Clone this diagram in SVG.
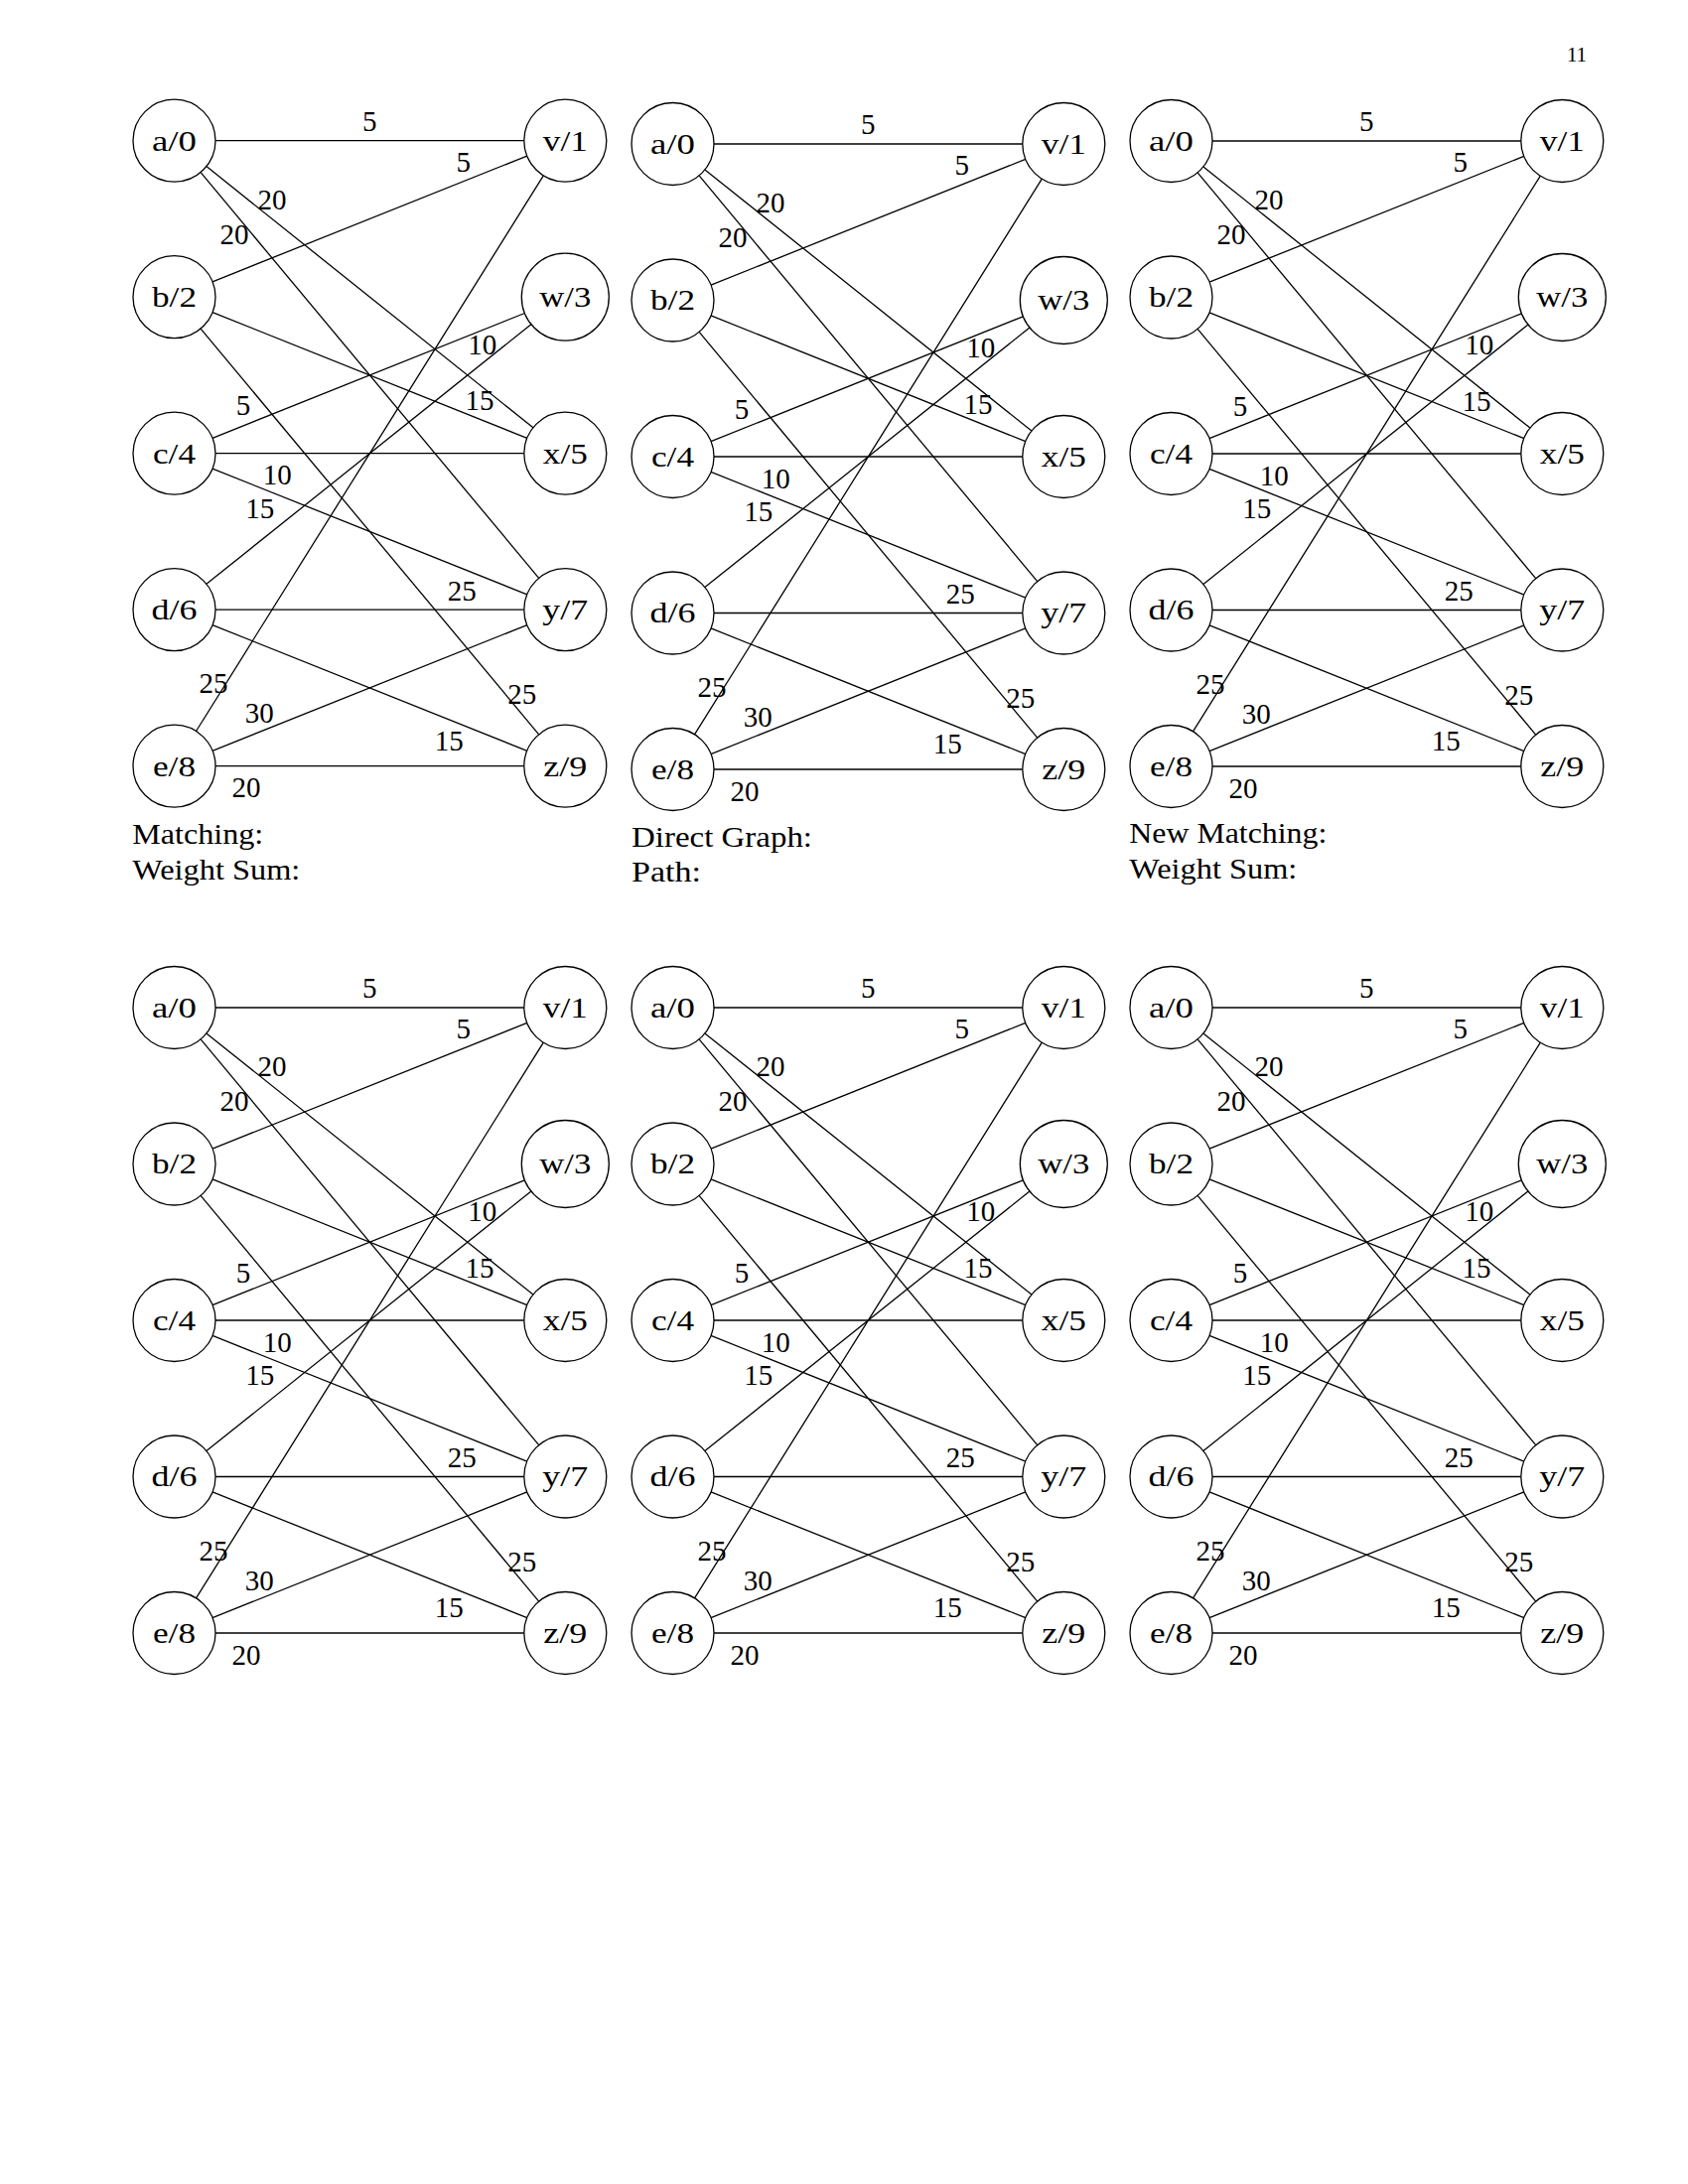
<svg xmlns="http://www.w3.org/2000/svg" xmlns:xlink="http://www.w3.org/1999/xlink" width="1700" height="2200" viewBox="0 0 1700 2200">
<style>
text{font-family:"Liberation Serif","Times New Roman",serif;font-size:29px;fill:#000}
.nl{text-anchor:middle;font-size:30px}
.el{text-anchor:middle}
.cap{text-anchor:start;font-size:30px}
.pg{font-size:21px;text-anchor:middle}
circle{fill:#fff;stroke:#000;stroke-width:1.3}
line{stroke:#000;stroke-width:1.3}
</style>
<rect width="1700" height="2200" fill="#fff"/>
<text class="pg" x="1588" y="62">11</text>
<defs>
<g id="edges">
<line x1="217" y1="141.7" x2="527.8" y2="141.7"/>
<line x1="207.9" y1="167.6" x2="536.9" y2="430.8"/>
<line x1="202.1" y1="173.6" x2="542.7" y2="582.3"/>
<line x1="214" y1="283.8" x2="530.8" y2="157.1"/>
<line x1="214" y1="314.6" x2="530.8" y2="441.3"/>
<line x1="202.1" y1="331.1" x2="542.7" y2="739.8"/>
<line x1="214" y1="441.3" x2="528.4" y2="315.5"/>
<line x1="217" y1="456.7" x2="527.8" y2="456.7"/>
<line x1="214" y1="472.1" x2="530.8" y2="598.8"/>
<line x1="207.9" y1="588.3" x2="534.9" y2="326.7"/>
<line x1="217" y1="614.2" x2="527.8" y2="614.2"/>
<line x1="214" y1="629.6" x2="530.8" y2="756.3"/>
<line x1="197.5" y1="736.5" x2="547.3" y2="176.9"/>
<line x1="214" y1="756.3" x2="530.8" y2="629.6"/>
<line x1="217" y1="771.7" x2="527.8" y2="771.7"/>
<text class="el" x="372.3" y="131.7">5</text>
<text class="el" x="466.7" y="172.7">5</text>
<text class="el" x="274" y="210.7">20</text>
<text class="el" x="236" y="246">20</text>
<text class="el" x="485.7" y="356.7">10</text>
<text class="el" x="483" y="413.3">15</text>
<text class="el" x="245" y="418.3">5</text>
<text class="el" x="279.3" y="488.3">10</text>
<text class="el" x="261.7" y="521.7">15</text>
<text class="el" x="465.3" y="605">25</text>
<text class="el" x="215" y="698.3">25</text>
<text class="el" x="261.3" y="728.3">30</text>
<text class="el" x="525.7" y="709.3">25</text>
<text class="el" x="452.3" y="756">15</text>
<text class="el" x="248" y="803.3">20</text>
</g>
</defs>

<g id="connectors">
<use xlink:href="#edges" href="#edges"/>
<use xlink:href="#edges" href="#edges" transform="translate(502,3.3)"/>
<use xlink:href="#edges" href="#edges" transform="translate(1004,0.3)"/>
<use xlink:href="#edges" href="#edges" transform="translate(0,873.3)"/>
<use xlink:href="#edges" href="#edges" transform="translate(502,873.3)"/>
<use xlink:href="#edges" href="#edges" transform="translate(1004,873.3)"/>
</g>

<g id="graph1">
<g id="g1-a"><circle cx="175.5" cy="141.7" r="41.5"/><text class="nl" x="175.5" y="151.7" textLength="45" lengthAdjust="spacingAndGlyphs">a/0</text></g>
<g id="g1-b"><circle cx="175.5" cy="299.2" r="41.5"/><text class="nl" x="175.5" y="309.2" textLength="45" lengthAdjust="spacingAndGlyphs">b/2</text></g>
<g id="g1-c"><circle cx="175.5" cy="456.7" r="41.5"/><text class="nl" x="175.5" y="466.7" textLength="43" lengthAdjust="spacingAndGlyphs">c/4</text></g>
<g id="g1-d"><circle cx="175.5" cy="614.2" r="41.5"/><text class="nl" x="175.5" y="624.2" textLength="46" lengthAdjust="spacingAndGlyphs">d/6</text></g>
<g id="g1-e"><circle cx="175.5" cy="771.7" r="41.5"/><text class="nl" x="175.5" y="781.7" textLength="43" lengthAdjust="spacingAndGlyphs">e/8</text></g>
<g id="g1-v"><circle cx="569.3" cy="141.7" r="41.5"/><text class="nl" x="569.3" y="151.7" textLength="45" lengthAdjust="spacingAndGlyphs">v/1</text></g>
<g id="g1-w"><circle cx="569.3" cy="299.2" r="44"/><text class="nl" x="569.3" y="309.2" textLength="52" lengthAdjust="spacingAndGlyphs">w/3</text></g>
<g id="g1-x"><circle cx="569.3" cy="456.7" r="41.5"/><text class="nl" x="569.3" y="466.7" textLength="45" lengthAdjust="spacingAndGlyphs">x/5</text></g>
<g id="g1-y"><circle cx="569.3" cy="614.2" r="41.5"/><text class="nl" x="569.3" y="624.2" textLength="46" lengthAdjust="spacingAndGlyphs">y/7</text></g>
<g id="g1-z"><circle cx="569.3" cy="771.7" r="41.5"/><text class="nl" x="569.3" y="781.7" textLength="44" lengthAdjust="spacingAndGlyphs">z/9</text></g>
<text class="cap" x="133.3" y="850" textLength="132" lengthAdjust="spacingAndGlyphs">Matching:</text>
<text class="cap" x="133.3" y="885.5" textLength="169" lengthAdjust="spacingAndGlyphs">Weight Sum:</text>
</g>

<g id="graph2" transform="translate(502,3.3)">
<g id="g2-a"><circle cx="175.5" cy="141.7" r="41.5"/><text class="nl" x="175.5" y="151.7" textLength="45" lengthAdjust="spacingAndGlyphs">a/0</text></g>
<g id="g2-b"><circle cx="175.5" cy="299.2" r="41.5"/><text class="nl" x="175.5" y="309.2" textLength="45" lengthAdjust="spacingAndGlyphs">b/2</text></g>
<g id="g2-c"><circle cx="175.5" cy="456.7" r="41.5"/><text class="nl" x="175.5" y="466.7" textLength="43" lengthAdjust="spacingAndGlyphs">c/4</text></g>
<g id="g2-d"><circle cx="175.5" cy="614.2" r="41.5"/><text class="nl" x="175.5" y="624.2" textLength="46" lengthAdjust="spacingAndGlyphs">d/6</text></g>
<g id="g2-e"><circle cx="175.5" cy="771.7" r="41.5"/><text class="nl" x="175.5" y="781.7" textLength="43" lengthAdjust="spacingAndGlyphs">e/8</text></g>
<g id="g2-v"><circle cx="569.3" cy="141.7" r="41.5"/><text class="nl" x="569.3" y="151.7" textLength="45" lengthAdjust="spacingAndGlyphs">v/1</text></g>
<g id="g2-w"><circle cx="569.3" cy="299.2" r="44"/><text class="nl" x="569.3" y="309.2" textLength="52" lengthAdjust="spacingAndGlyphs">w/3</text></g>
<g id="g2-x"><circle cx="569.3" cy="456.7" r="41.5"/><text class="nl" x="569.3" y="466.7" textLength="45" lengthAdjust="spacingAndGlyphs">x/5</text></g>
<g id="g2-y"><circle cx="569.3" cy="614.2" r="41.5"/><text class="nl" x="569.3" y="624.2" textLength="46" lengthAdjust="spacingAndGlyphs">y/7</text></g>
<g id="g2-z"><circle cx="569.3" cy="771.7" r="41.5"/><text class="nl" x="569.3" y="781.7" textLength="44" lengthAdjust="spacingAndGlyphs">z/9</text></g>
<text class="cap" x="134" y="849.7" textLength="182" lengthAdjust="spacingAndGlyphs">Direct Graph:</text>
<text class="cap" x="134" y="884.7" textLength="70" lengthAdjust="spacingAndGlyphs">Path:</text>
</g>

<g id="graph3" transform="translate(1004,0.3)">
<g id="g3-a"><circle cx="175.5" cy="141.7" r="41.5"/><text class="nl" x="175.5" y="151.7" textLength="45" lengthAdjust="spacingAndGlyphs">a/0</text></g>
<g id="g3-b"><circle cx="175.5" cy="299.2" r="41.5"/><text class="nl" x="175.5" y="309.2" textLength="45" lengthAdjust="spacingAndGlyphs">b/2</text></g>
<g id="g3-c"><circle cx="175.5" cy="456.7" r="41.5"/><text class="nl" x="175.5" y="466.7" textLength="43" lengthAdjust="spacingAndGlyphs">c/4</text></g>
<g id="g3-d"><circle cx="175.5" cy="614.2" r="41.5"/><text class="nl" x="175.5" y="624.2" textLength="46" lengthAdjust="spacingAndGlyphs">d/6</text></g>
<g id="g3-e"><circle cx="175.5" cy="771.7" r="41.5"/><text class="nl" x="175.5" y="781.7" textLength="43" lengthAdjust="spacingAndGlyphs">e/8</text></g>
<g id="g3-v"><circle cx="569.3" cy="141.7" r="41.5"/><text class="nl" x="569.3" y="151.7" textLength="45" lengthAdjust="spacingAndGlyphs">v/1</text></g>
<g id="g3-w"><circle cx="569.3" cy="299.2" r="44"/><text class="nl" x="569.3" y="309.2" textLength="52" lengthAdjust="spacingAndGlyphs">w/3</text></g>
<g id="g3-x"><circle cx="569.3" cy="456.7" r="41.5"/><text class="nl" x="569.3" y="466.7" textLength="45" lengthAdjust="spacingAndGlyphs">x/5</text></g>
<g id="g3-y"><circle cx="569.3" cy="614.2" r="41.5"/><text class="nl" x="569.3" y="624.2" textLength="46" lengthAdjust="spacingAndGlyphs">y/7</text></g>
<g id="g3-z"><circle cx="569.3" cy="771.7" r="41.5"/><text class="nl" x="569.3" y="781.7" textLength="44" lengthAdjust="spacingAndGlyphs">z/9</text></g>
<text class="cap" x="133.3" y="848.5" textLength="199" lengthAdjust="spacingAndGlyphs">New Matching:</text>
<text class="cap" x="133.3" y="884.7" textLength="169" lengthAdjust="spacingAndGlyphs">Weight Sum:</text>
</g>

<g id="graph4" transform="translate(0,873.3)">
<g id="g4-a"><circle cx="175.5" cy="141.7" r="41.5"/><text class="nl" x="175.5" y="151.7" textLength="45" lengthAdjust="spacingAndGlyphs">a/0</text></g>
<g id="g4-b"><circle cx="175.5" cy="299.2" r="41.5"/><text class="nl" x="175.5" y="309.2" textLength="45" lengthAdjust="spacingAndGlyphs">b/2</text></g>
<g id="g4-c"><circle cx="175.5" cy="456.7" r="41.5"/><text class="nl" x="175.5" y="466.7" textLength="43" lengthAdjust="spacingAndGlyphs">c/4</text></g>
<g id="g4-d"><circle cx="175.5" cy="614.2" r="41.5"/><text class="nl" x="175.5" y="624.2" textLength="46" lengthAdjust="spacingAndGlyphs">d/6</text></g>
<g id="g4-e"><circle cx="175.5" cy="771.7" r="41.5"/><text class="nl" x="175.5" y="781.7" textLength="43" lengthAdjust="spacingAndGlyphs">e/8</text></g>
<g id="g4-v"><circle cx="569.3" cy="141.7" r="41.5"/><text class="nl" x="569.3" y="151.7" textLength="45" lengthAdjust="spacingAndGlyphs">v/1</text></g>
<g id="g4-w"><circle cx="569.3" cy="299.2" r="44"/><text class="nl" x="569.3" y="309.2" textLength="52" lengthAdjust="spacingAndGlyphs">w/3</text></g>
<g id="g4-x"><circle cx="569.3" cy="456.7" r="41.5"/><text class="nl" x="569.3" y="466.7" textLength="45" lengthAdjust="spacingAndGlyphs">x/5</text></g>
<g id="g4-y"><circle cx="569.3" cy="614.2" r="41.5"/><text class="nl" x="569.3" y="624.2" textLength="46" lengthAdjust="spacingAndGlyphs">y/7</text></g>
<g id="g4-z"><circle cx="569.3" cy="771.7" r="41.5"/><text class="nl" x="569.3" y="781.7" textLength="44" lengthAdjust="spacingAndGlyphs">z/9</text></g>
</g>

<g id="graph5" transform="translate(502,873.3)">
<g id="g5-a"><circle cx="175.5" cy="141.7" r="41.5"/><text class="nl" x="175.5" y="151.7" textLength="45" lengthAdjust="spacingAndGlyphs">a/0</text></g>
<g id="g5-b"><circle cx="175.5" cy="299.2" r="41.5"/><text class="nl" x="175.5" y="309.2" textLength="45" lengthAdjust="spacingAndGlyphs">b/2</text></g>
<g id="g5-c"><circle cx="175.5" cy="456.7" r="41.5"/><text class="nl" x="175.5" y="466.7" textLength="43" lengthAdjust="spacingAndGlyphs">c/4</text></g>
<g id="g5-d"><circle cx="175.5" cy="614.2" r="41.5"/><text class="nl" x="175.5" y="624.2" textLength="46" lengthAdjust="spacingAndGlyphs">d/6</text></g>
<g id="g5-e"><circle cx="175.5" cy="771.7" r="41.5"/><text class="nl" x="175.5" y="781.7" textLength="43" lengthAdjust="spacingAndGlyphs">e/8</text></g>
<g id="g5-v"><circle cx="569.3" cy="141.7" r="41.5"/><text class="nl" x="569.3" y="151.7" textLength="45" lengthAdjust="spacingAndGlyphs">v/1</text></g>
<g id="g5-w"><circle cx="569.3" cy="299.2" r="44"/><text class="nl" x="569.3" y="309.2" textLength="52" lengthAdjust="spacingAndGlyphs">w/3</text></g>
<g id="g5-x"><circle cx="569.3" cy="456.7" r="41.5"/><text class="nl" x="569.3" y="466.7" textLength="45" lengthAdjust="spacingAndGlyphs">x/5</text></g>
<g id="g5-y"><circle cx="569.3" cy="614.2" r="41.5"/><text class="nl" x="569.3" y="624.2" textLength="46" lengthAdjust="spacingAndGlyphs">y/7</text></g>
<g id="g5-z"><circle cx="569.3" cy="771.7" r="41.5"/><text class="nl" x="569.3" y="781.7" textLength="44" lengthAdjust="spacingAndGlyphs">z/9</text></g>
</g>

<g id="graph6" transform="translate(1004,873.3)">
<g id="g6-a"><circle cx="175.5" cy="141.7" r="41.5"/><text class="nl" x="175.5" y="151.7" textLength="45" lengthAdjust="spacingAndGlyphs">a/0</text></g>
<g id="g6-b"><circle cx="175.5" cy="299.2" r="41.5"/><text class="nl" x="175.5" y="309.2" textLength="45" lengthAdjust="spacingAndGlyphs">b/2</text></g>
<g id="g6-c"><circle cx="175.5" cy="456.7" r="41.5"/><text class="nl" x="175.5" y="466.7" textLength="43" lengthAdjust="spacingAndGlyphs">c/4</text></g>
<g id="g6-d"><circle cx="175.5" cy="614.2" r="41.5"/><text class="nl" x="175.5" y="624.2" textLength="46" lengthAdjust="spacingAndGlyphs">d/6</text></g>
<g id="g6-e"><circle cx="175.5" cy="771.7" r="41.5"/><text class="nl" x="175.5" y="781.7" textLength="43" lengthAdjust="spacingAndGlyphs">e/8</text></g>
<g id="g6-v"><circle cx="569.3" cy="141.7" r="41.5"/><text class="nl" x="569.3" y="151.7" textLength="45" lengthAdjust="spacingAndGlyphs">v/1</text></g>
<g id="g6-w"><circle cx="569.3" cy="299.2" r="44"/><text class="nl" x="569.3" y="309.2" textLength="52" lengthAdjust="spacingAndGlyphs">w/3</text></g>
<g id="g6-x"><circle cx="569.3" cy="456.7" r="41.5"/><text class="nl" x="569.3" y="466.7" textLength="45" lengthAdjust="spacingAndGlyphs">x/5</text></g>
<g id="g6-y"><circle cx="569.3" cy="614.2" r="41.5"/><text class="nl" x="569.3" y="624.2" textLength="46" lengthAdjust="spacingAndGlyphs">y/7</text></g>
<g id="g6-z"><circle cx="569.3" cy="771.7" r="41.5"/><text class="nl" x="569.3" y="781.7" textLength="44" lengthAdjust="spacingAndGlyphs">z/9</text></g>
</g>
</svg>
